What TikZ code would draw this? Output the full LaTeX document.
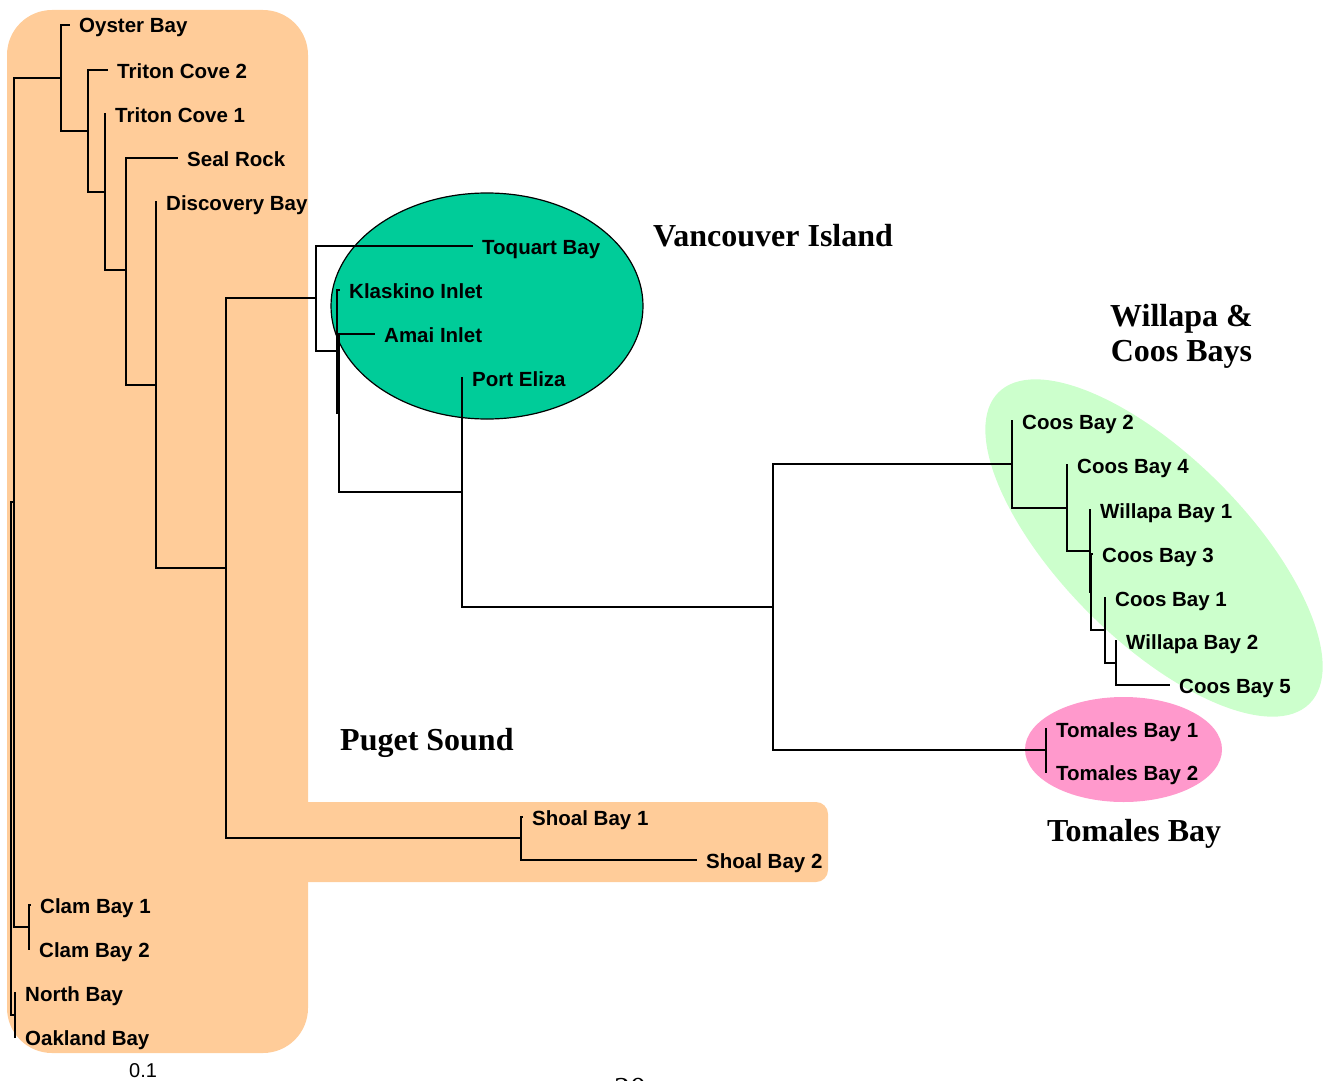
\documentclass[tikz,border=0pt]{standalone}
\usepackage{fontspec}
\setmainfont{Liberation Sans}
\newfontfamily\titlefont{Liberation Serif}
\definecolor{peach}{HTML}{FFCC99}
\definecolor{vigreen}{HTML}{00CC99}
\definecolor{coosgreen}{HTML}{CCFFCC}
\definecolor{tompink}{HTML}{FF99CC}
\begin{document}
\begin{tikzpicture}[x=1pt,y=-1pt,
  tree/.style={line width=1.9pt},
  leaf/.style={anchor=west, inner xsep=9pt, inner ysep=0pt, text height=16pt, text depth=0pt, font=\fontsize{20.5}{24}\selectfont\bfseries},
  title/.style={inner sep=0pt, font=\titlefont\fontsize{32}{35}\selectfont\bfseries}]
\useasboundingbox (0,0) rectangle (1330,1081);
% backgrounds
\fill[peach, rounded corners=45pt] (7,10) rectangle (308,1053);
\fill[peach, rounded corners=12pt] (280,802) rectangle (828,882);
\draw[fill=vigreen, line width=1.2pt] (487,306) ellipse [x radius=156pt, y radius=113pt];
\begin{scope}[shift={(1154,548)}, rotate=-45]
  \fill[coosgreen] (0,0) ellipse [x radius=220pt, y radius=92pt];
\end{scope}
\fill[tompink] (1123.5,749.5) ellipse [x radius=98.5pt, y radius=52.5pt];
% leaves
\node[leaf] (oyster) at (70,25) {Oyster Bay};
\node[leaf] (triton2) at (108,70) {Triton Cove 2};
\node[leaf] (triton1) at (106,114) {Triton Cove 1};
\node[leaf] (seal) at (178,158) {Seal Rock};
\node[leaf] (discovery) at (157,202) {Discovery Bay};
\node[leaf] (toquart) at (473,246) {Toquart Bay};
\node[leaf] (klaskino) at (340,290) {Klaskino Inlet};
\node[leaf] (amai) at (375,334) {Amai Inlet};
\node[leaf] (porteliza) at (463,378) {Port Eliza};
\node[leaf] (coos2) at (1013,421) {Coos Bay 2};
\node[leaf] (coos4) at (1068,465) {Coos Bay 4};
\node[leaf] (willapa1) at (1091,510) {Willapa Bay 1};
\node[leaf] (coos3) at (1093,554) {Coos Bay 3};
\node[leaf] (coos1) at (1106,598) {Coos Bay 1};
\node[leaf] (willapa2) at (1117,641) {Willapa Bay 2};
\node[leaf] (coos5) at (1170,685) {Coos Bay 5};
\node[leaf] (tomales1) at (1047,729) {Tomales Bay 1};
\node[leaf] (tomales2) at (1047,772) {Tomales Bay 2};
\node[leaf] (shoal1) at (523,817) {Shoal Bay 1};
\node[leaf] (shoal2) at (697,860) {Shoal Bay 2};
\node[leaf] (clam1) at (31,905) {Clam Bay 1};
\node[leaf] (clam2) at (30,949) {Clam Bay 2};
\node[leaf] (north) at (16,993) {North Bay};
\node[leaf] (oakland) at (16,1037) {Oakland Bay};
% internal nodes
\coordinate (A) at (61,78);
\coordinate (B) at (88,131);
\coordinate (C) at (105,192);
\coordinate (D) at (126,270);
\coordinate (E) at (156,385);
\coordinate (F) at (226,568);
\coordinate (G) at (316,298);
\coordinate (H) at (337,351);
\coordinate (I) at (339,413);
\coordinate (J) at (462,492);
\coordinate (K) at (773,607);
\coordinate (L) at (1012,464);
\coordinate (M) at (1067,508);
\coordinate (N1) at (1090,551);
\coordinate (N2) at (1091,592);
\coordinate (O) at (1105,630);
\coordinate (P) at (1116,663);
\coordinate (Q) at (1046,750);
\coordinate (R) at (521,838);
\coordinate (S2) at (14,502);
\coordinate (CL) at (29,927);
\coordinate (NO) at (15,1015);
\coordinate (ROOT) at (11,758);
% edges
\draw[tree] (A) |- (oyster.west);  \draw[tree] (A) |- (B);
\draw[tree] (B) |- (triton2.west); \draw[tree] (B) |- (C);
\draw[tree] (C) |- (triton1.west); \draw[tree] (C) |- (D);
\draw[tree] (D) |- (seal.west);    \draw[tree] (D) |- (E);
\draw[tree] (E) |- (discovery.west); \draw[tree] (E) |- (F);
\draw[tree] (F) |- (G);            \draw[tree] (F) |- (R);
\draw[tree] (G) |- (toquart.west); \draw[tree] (G) |- (H);
\draw[tree] (H) |- (klaskino.west); \draw[tree] (H) |- (I);
\draw[tree] (I) |- (amai.west);    \draw[tree] (I) |- (J);
\draw[tree] (J) |- (porteliza.west); \draw[tree] (J) |- (K);
\draw[tree] (K) |- (L);            \draw[tree] (K) |- (Q);
\draw[tree] (L) |- (coos2.west);   \draw[tree] (L) |- (M);
\draw[tree] (M) |- (coos4.west);   \draw[tree] (M) |- (N1);
\draw[tree] (N1) |- (willapa1.west); \draw[tree] (N1) |- (N2);
\draw[tree] (N2) |- (coos3.west);  \draw[tree] (N2) |- (O);
\draw[tree] (O) |- (coos1.west);   \draw[tree] (O) |- (P);
\draw[tree] (P) |- (willapa2.west); \draw[tree] (P) |- (coos5.west);
\draw[tree] (Q) |- (tomales1.west); \draw[tree] (Q) |- (tomales2.west);
\draw[tree] (R) |- (shoal1.west);  \draw[tree] (R) |- (shoal2.west);
\draw[tree] (S2) |- (A);           \draw[tree] (S2) |- (CL);
\draw[tree] (CL) |- (clam1.west);  \draw[tree] (CL) |- (clam2.west);
\draw[tree] (NO) |- (north.west);  \draw[tree] (NO) |- (oakland.west);
\draw[tree] (ROOT) |- (S2);        \draw[tree] (ROOT) |- (NO);
% titles
\node[title, anchor=base west] (vancouver) at (653,246.7) {Vancouver Island};
\node[title, anchor=north, align=center] (willapa) at (1181.5,304.5) {Willapa \&\\Coos Bays};
\node[title, anchor=base west] (puget) at (340,750) {Puget Sound};
\node[title, anchor=base west] (tomales) at (1047,841.7) {Tomales Bay};
\node[inner sep=0pt, anchor=base west, font=\fontsize{20}{24}\selectfont] (scale) at (129,1077) {0.1};
\node[inner sep=0pt, anchor=base west, font=\titlefont\fontsize{32}{35}\selectfont] (page) at (614,1099.6) {20};
\end{tikzpicture}
\end{document}
